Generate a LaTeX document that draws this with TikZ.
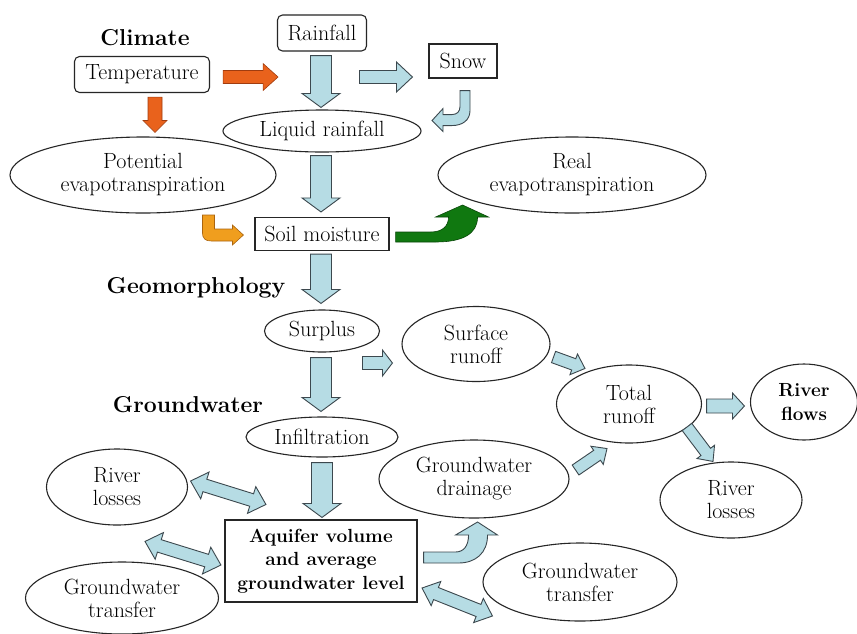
\documentclass[tikz,border=0pt]{standalone}
\usetikzlibrary{shapes.geometric,calc}
\definecolor{arrblue}{RGB}{182,220,228}
\definecolor{arrblueline}{RGB}{60,72,78}
\definecolor{arrred}{RGB}{233,98,28}
\definecolor{arrredline}{RGB}{160,60,15}
\definecolor{arrorange}{RGB}{240,158,30}
\definecolor{arrorangeline}{RGB}{170,100,15}
\definecolor{arrgreen}{RGB}{16,120,16}
\definecolor{arrgreenline}{RGB}{8,70,8}
% block arrow: #1 style, #2 from, #3 to, #4 shaft half width, #5 head half width, #6 head length (pt)
\newcommand\barrow[6]{%
  \filldraw[#1] let \p1=(#2), \p2=(#3), \n1={atan2(\y2-\y1,\x2-\x1)} in
   ($(\p1)+(\n1+90:#4pt)$) -- ($(\p2)+(\n1+180:#6pt)+(\n1+90:#4pt)$)
   -- ($(\p2)+(\n1+180:#6pt)+(\n1+90:#5pt)$) -- (\p2)
   -- ($(\p2)+(\n1+180:#6pt)+(\n1-90:#5pt)$) -- ($(\p2)+(\n1+180:#6pt)+(\n1-90:#4pt)$)
   -- ($(\p1)+(\n1-90:#4pt)$) -- cycle;}
% double block arrow
\newcommand\dbarrow[6]{%
  \filldraw[#1] let \p1=(#2), \p2=(#3), \n1={atan2(\y2-\y1,\x2-\x1)} in
   (\p1) -- ($(\p1)+(\n1:#6pt)+(\n1+90:#5pt)$) -- ($(\p1)+(\n1:#6pt)+(\n1+90:#4pt)$)
   -- ($(\p2)+(\n1+180:#6pt)+(\n1+90:#4pt)$) -- ($(\p2)+(\n1+180:#6pt)+(\n1+90:#5pt)$)
   -- (\p2)
   -- ($(\p2)+(\n1+180:#6pt)+(\n1-90:#5pt)$) -- ($(\p2)+(\n1+180:#6pt)+(\n1-90:#4pt)$)
   -- ($(\p1)+(\n1:#6pt)+(\n1-90:#4pt)$) -- ($(\p1)+(\n1:#6pt)+(\n1-90:#5pt)$) -- cycle;}
\tikzset{
  txt/.style={font=\fontsize{22}{23}\selectfont, align=center, inner sep=0pt},
  ell/.style={txt, ellipse, draw=black!85, line width=1.1pt},
  box/.style={txt, rectangle, draw=black!85, line width=1.1pt},
  rbox/.style={box, rounded corners=5pt},
  boldtxt/.style={font=\bfseries\fontsize{19}{23.5}\selectfont},
  lab/.style={font=\bfseries\fontsize{23}{24}\selectfont, inner sep=0pt},
  bluearr/.style={fill=arrblue, draw=arrblueline, line width=0.9pt, line join=miter},
  redarr/.style={fill=arrred, draw=arrredline, line width=0.6pt, line join=miter},
  orangearr/.style={fill=arrorange, draw=arrorangeline, line width=0.6pt, line join=miter},
  greenarr/.style={fill=arrgreen, draw=arrgreenline, line width=0.6pt, line join=miter}
}
\begin{document}
\begin{tikzpicture}[x=1pt,y=-1pt]
\useasboundingbox[fill=white] (0,0) rectangle (857,633);

% labels
\node[lab] (climate) at (145,38) {Climate};
\node[lab] (geo) at (196,288) {Geomorphology};
\node[lab] (gw) at (188,405) {Groundwater};

% nodes
\node[rbox, minimum width=135pt, minimum height=36pt] (temp) at (142,74.5) {Temperature};
\node[rbox, minimum width=89pt, minimum height=36pt] (rain) at (322,33) {Rainfall};
\node[box, minimum width=68pt, minimum height=34pt] (snow) at (463,61) {Snow};
\node[ell, minimum width=198pt, minimum height=42pt] (liq) at (322,131) {Liquid rainfall};
\node[ell, minimum width=266pt, minimum height=76pt] (pot) at (143,175) {Potential\\evapotranspiration};
\node[ell, minimum width=268pt, minimum height=76pt] (real) at (572,175) {Real\\evapotranspiration};
\node[box, minimum width=134pt, minimum height=33pt] (soil) at (322,234) {Soil moisture};
\node[ell, minimum width=115pt, minimum height=42pt] (surplus) at (322,331) {Surplus};
\node[ell, minimum width=148pt, minimum height=75pt] (surf) at (476,344) {Surface\\runoff};
\node[ell, minimum width=145pt, minimum height=78pt] (total) at (629,404) {Total\\runoff};
\node[ell, minimum width=107pt, minimum height=76pt, boldtxt] (flows) at (804,402) {River\\flows};
\node[ell, minimum width=152pt, minimum height=40pt] (infil) at (322,437) {Infiltration};
\node[ell, minimum width=141pt, minimum height=76pt] (rlossL) at (117,487) {River\\losses};
\node[ell, minimum width=190pt, minimum height=78pt] (drain) at (474,479) {Groundwater\\drainage};
\node[ell, minimum width=142pt, minimum height=76pt] (rlossR) at (731,500) {River\\losses};
\node[box, minimum width=192pt, minimum height=82pt, boldtxt] (aq) at (321,561) {Aquifer volume\\and average\\groundwater level};
\node[ell, minimum width=193pt, minimum height=72pt] (gwtL) at (122,598) {Groundwater\\transfer};
\node[ell, minimum width=194pt, minimum height=78pt] (gwtR) at (580,582) {Groundwater\\transfer};

% straight block arrows
\barrow{redarr}{$(temp.east)+(13,2.5)$}{$(temp.east)+(68,2.5)$}{6.5}{13.5}{15}
\barrow{redarr}{$(temp.south)+(13,4)$}{$(pot.north)+(12,-4)$}{7}{12}{12}
\barrow{bluearr}{$(rain.south)+(-1,4)$}{$(liq.north)+(-1,-2)$}{10.5}{19}{14}
\barrow{bluearr}{$(snow.west)+(-69,16)$}{$(snow.west)+(-16,16)$}{6.5}{15}{16}
\barrow{bluearr}{$(liq.south)+(-1,3)$}{$(soil.north)+(-1,-5)$}{10.5}{19}{14}
\barrow{bluearr}{$(soil.south)+(-1,3)$}{$(surplus.north)+(-1,-6)$}{10.5}{19}{14}
\barrow{bluearr}{$(surf.west)+(-39,19)$}{$(surf.west)+(-9,19)$}{6.5}{13}{10}
\barrow{bluearr}{$(surplus.south)+(-1,5)$}{$(infil.north)+(-1,-5)$}{10.5}{19}{14}
\barrow{bluearr}{$(surf.east)+(3,13)$}{$(total.north)+(-44,4)$}{6}{11}{12}
\barrow{bluearr}{$(drain.east)+(6,-9)$}{$(total.south)+(-22,5)$}{6}{11}{12}
\barrow{bluearr}{$(total.east)+(4.5,2)$}{$(flows.west)+(-5.5,4)$}{7}{13}{12}
\barrow{bluearr}{$(total.center)+(58,23)$}{$(rlossR.north)+(-18,0)$}{6}{11}{12}
\barrow{bluearr}{$(infil.south)+(0,5)$}{$(aq.north)+(1,-2)$}{10.5}{19}{14}

% double block arrows
\dbarrow{bluearr}{$(rlossL.east)+(2.5,-6)$}{$(aq.north west)+(41.5,-15)$}{6.5}{14}{15}
\dbarrow{bluearr}{$(gwtL.north)+(23,-20)$}{$(aq.west)+(-3.5,4)$}{6.5}{14}{15}
\dbarrow{bluearr}{$(aq.east)+(4.5,27)$}{$(gwtR.west)+(10,34)$}{6.5}{13}{15}

% curved block arrows
\begin{scope}[shift={(snow.south)}]
\filldraw[bluearr] (-3,12) -- (7,12) -- (7,32) .. controls (7,42) and (-1,47) .. (-11,47)
  -- (-20,47) -- (-20,53) -- (-31,42) -- (-20,30) -- (-20,36) -- (-11,36)
  .. controls (-6,36) and (-3,33) .. (-3,28) -- cycle;
\end{scope}
\begin{scope}[shift={(soil.west)}]
\filldraw[orangearr] (-52,-19) -- (-52,-2) .. controls (-52,5) and (-49,7) .. (-43,7)
  -- (-22,7) -- (-22,11) -- (-11,1) -- (-22,-9) -- (-22,-5) -- (-40,-5) -- (-40,-19) -- cycle;
\end{scope}
\begin{scope}[shift={(soil.east)}]
\filldraw[greenarr] (6,-2) -- (41,-2) .. controls (53,-2) and (59,-8) .. (59,-17)
  -- (46,-17) -- (73,-29) -- (99,-17) -- (88,-17) .. controls (88,0) and (73,8) .. (46,8)
  -- (6,8) -- cycle;
\end{scope}
\begin{scope}[shift={(aq.east)}]
\filldraw[bluearr] (6,-9) -- (38,-9) .. controls (46,-9) and (51,-15) .. (51,-26)
  -- (38,-26) -- (60,-39) -- (80,-26) -- (70,-26) .. controls (70,-8) and (58,2) .. (41,2)
  -- (6,2) -- cycle;
\end{scope}
\end{tikzpicture}
\end{document}
